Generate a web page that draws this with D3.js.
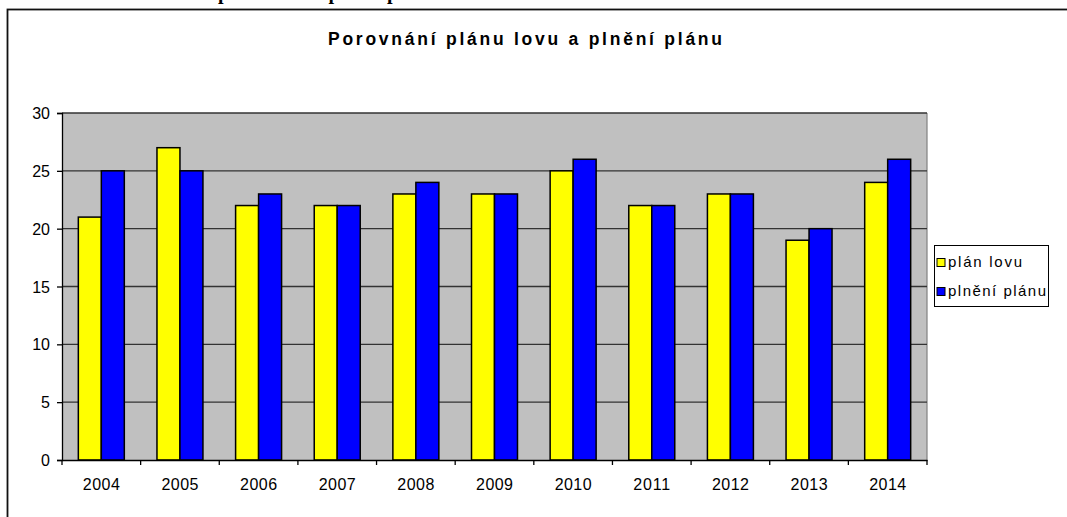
<!DOCTYPE html>
<html>
<head>
<meta charset="utf-8">
<script src="https://cdn.jsdelivr.net/npm/d3@7"></script>
<style>
  body { margin: 0; background: #fff; }
  svg { display: block; }
  text { font-family: Arial, "Liberation Sans", sans-serif; fill: #000; }
</style>
</head>
<body>
<svg width="1067" height="517"></svg>
<script>
// chart data
const years = ['2004', '2005', '2006', '2007', '2008', '2009', '2010', '2011', '2012', '2013', '2014'];
const planLovu = [21, 27, 22, 22, 23, 23, 25, 22, 23, 19, 24];
const plneniPlanu = [25, 25, 23, 22, 24, 23, 26, 22, 23, 20, 26];
const seriesNames = ['plán lovu', 'plnění plánu'];
const seriesColors = ['#ffff00', '#0000ff'];
const yTicks = [0, 5, 10, 15, 20, 25, 30];

(function (d3) {
  'use strict';

  const svg = d3.select('svg');

  // cut-off caption of the page above the chart
  const cap = svg.append('text')
    .attr('y', -1)
    .style('font-family', '"Liberation Serif", "Times New Roman", serif')
    .style('font-weight', 'bold')
    .style('font-size', '20px')
    .text('Porovnání plánu lovu a plnění plánu');
  const capOffset = cap.node().getSubStringLength(0, 'Porovnání '.length);
  cap.attr('x', 218 - capOffset);

  // outer frame
  svg.append('rect')
    .attr('x', 7.5)
    .attr('y', 9.5)
    .attr('width', 1080)
    .attr('height', 540)
    .attr('fill', 'none')
    .attr('stroke', '#111')
    .attr('stroke-width', 1.8);

  // title
  svg.append('text')
    .attr('x', 328)
    .attr('y', 45)
    .attr('textLength', 394)
    .attr('lengthAdjust', 'spacing')
    .style('font-weight', 'bold')
    .style('font-size', '17.5px')
    .text('Porovnání plánu lovu a plnění plánu');

  const plotLeft = 62, plotRight = 927, plotTop = 113, plotBottom = 460;

  const x = d3.scaleBand().domain(years).range([plotLeft, plotRight]);
  const xSub = d3.scaleBand().domain(seriesNames).range([0, x.bandwidth()]).paddingOuter(0.71);
  const y = d3.scaleLinear().domain([0, 30]).range([plotBottom, plotTop]);

  // plot background
  svg.append('rect')
    .attr('x', plotLeft)
    .attr('y', plotTop)
    .attr('width', plotRight - plotLeft)
    .attr('height', plotBottom - plotTop)
    .attr('fill', '#c0c0c0');

  svg.append('line')
    .attr('x1', plotRight).attr('x2', plotRight)
    .attr('y1', plotTop).attr('y2', plotBottom)
    .attr('stroke', '#808080')
    .attr('stroke-width', 1.2);

  // gridlines
  svg.append('g')
    .selectAll('line')
    .data(yTicks.filter(d => d > 0))
    .join('line')
    .attr('x1', plotLeft)
    .attr('x2', plotRight)
    .attr('y1', d => y(d))
    .attr('y2', d => y(d))
    .attr('stroke', '#333')
    .attr('stroke-width', 1.3);

  // bars
  const rows = years.map((yr, i) => ({ year: yr, values: [planLovu[i], plneniPlanu[i]] }));

  const groups = svg.append('g')
    .selectAll('g')
    .data(rows)
    .join('g')
    .attr('transform', d => `translate(${x(d.year)},0)`);

  groups.selectAll('rect')
    .data(d => d.values.map((v, k) => ({ name: seriesNames[k], value: v, color: seriesColors[k] })))
    .join('rect')
    .attr('x', d => xSub(d.name))
    .attr('y', d => y(d.value))
    .attr('width', xSub.bandwidth())
    .attr('height', d => plotBottom - y(d.value))
    .attr('fill', d => d.color)
    .attr('stroke', '#000')
    .attr('stroke-width', 1.5);

  // y axis
  const yAxis = svg.append('g')
    .attr('transform', `translate(${plotLeft},0)`)
    .call(d3.axisLeft(y).tickValues(yTicks).tickSize(5).tickPadding(7));
  yAxis.select('.domain').attr('stroke', '#000').attr('stroke-width', 1.3);
  yAxis.selectAll('.tick line').attr('stroke', '#000').attr('stroke-width', 1.3);
  yAxis.selectAll('.tick text')
    .style('font-size', '16px')
    .style('font-family', 'Arial, "Liberation Sans", sans-serif')
    .attr('dy', '0.35em');

  // x axis
  const xAxis = svg.append('g')
    .attr('transform', `translate(0,${plotBottom})`)
    .call(d3.axisBottom(x).tickSize(0).tickPadding(0));
  xAxis.select('.domain').attr('stroke', '#000').attr('stroke-width', 1.3);
  xAxis.selectAll('.tick text')
    .attr('y', 30)
    .attr('dy', 0)
    .attr('textLength', 37)
    .attr('lengthAdjust', 'spacing')
    .style('font-size', '16px')
    .style('font-family', 'Arial, "Liberation Sans", sans-serif');

  // category boundary ticks
  const bounds = years.map(d => x(d)).concat([plotRight]);
  svg.append('g')
    .selectAll('line')
    .data(bounds)
    .join('line')
    .attr('x1', d => d)
    .attr('x2', d => d)
    .attr('y1', plotBottom)
    .attr('y2', plotBottom + 5)
    .attr('stroke', '#000')
    .attr('stroke-width', 1.3);

  // legend
  const legend = svg.append('g');
  legend.append('rect')
    .attr('x', 934.5)
    .attr('y', 245.5)
    .attr('width', 114)
    .attr('height', 61)
    .attr('fill', '#fff')
    .attr('stroke', '#000')
    .attr('stroke-width', 1);

  const legendWidths = [74, 98];
  const items = legend.selectAll('g.item')
    .data(seriesNames)
    .join('g')
    .attr('class', 'item')
    .attr('transform', (d, i) => `translate(0,${i * 29})`);

  items.append('rect')
    .attr('x', 937)
    .attr('y', 258.5)
    .attr('width', 8)
    .attr('height', 8)
    .attr('fill', (d, i) => seriesColors[i])
    .attr('stroke', '#000')
    .attr('stroke-width', 1);

  items.append('text')
    .attr('x', 948)
    .attr('y', 267)
    .attr('textLength', (d, i) => legendWidths[i])
    .attr('lengthAdjust', 'spacing')
    .style('font-size', '15px')
    .text(d => d);

}(d3));
</script>
</body>
</html>
